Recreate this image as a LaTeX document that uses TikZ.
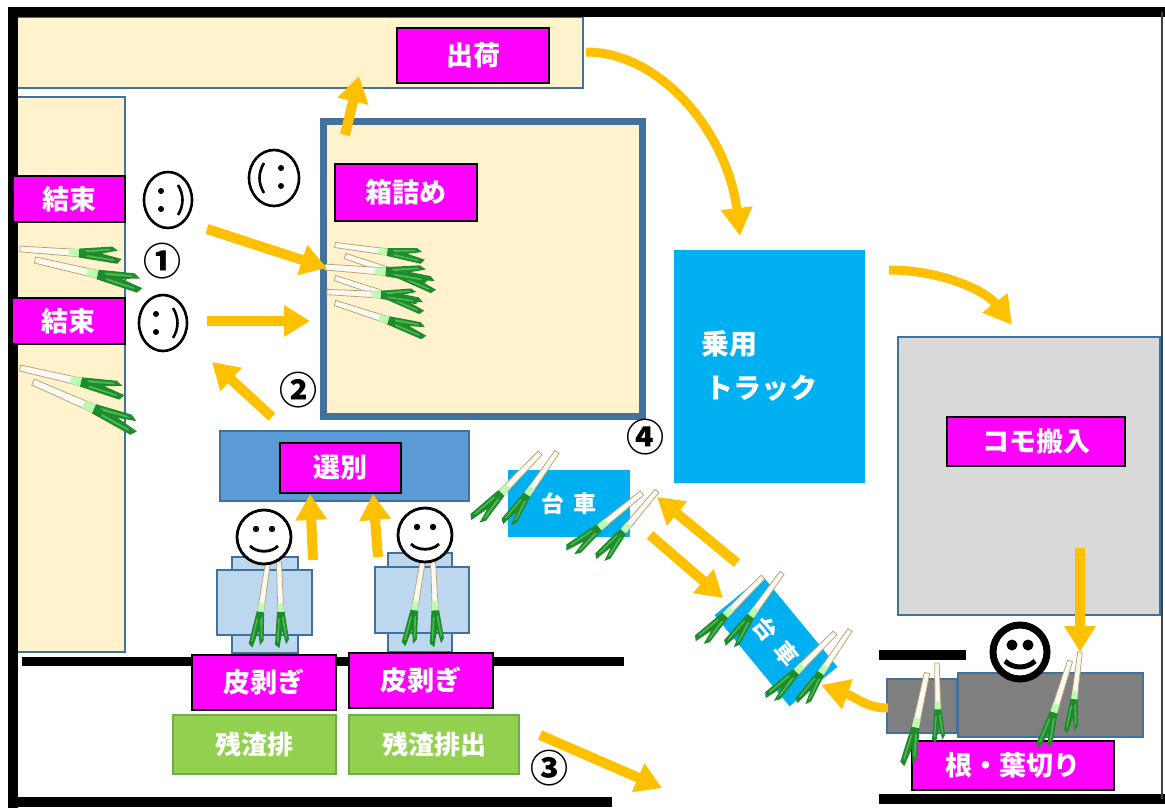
\documentclass[tikz,border=0pt]{standalone}
\usepackage{fontspec}
\usetikzlibrary{arrows.meta}
\newfontfamily\jp{Noto Sans CJK JP}
\definecolor{mag}{HTML}{FF00FF}
\definecolor{ay}{HTML}{FFC000}
\definecolor{cream}{HTML}{FFF2CC}
\definecolor{bord}{HTML}{41719C}
\definecolor{sky}{HTML}{00B0F0}
\definecolor{lblue}{HTML}{BDD7EE}
\definecolor{mblue}{HTML}{5B9BD5}
\definecolor{lgray}{HTML}{D9D9D9}
\definecolor{dgray}{HTML}{7F7F7F}
\definecolor{lgreen}{HTML}{92D050}
\definecolor{ggreen}{HTML}{70AD47}
\definecolor{leekg}{HTML}{1E8B2D}
\definecolor{leekl}{HTML}{4DB84F}
\definecolor{stalk}{HTML}{FBFAF0}
\definecolor{leektan}{HTML}{BBA478}
\begin{document}
\begin{tikzpicture}[x=1pt,y=-1pt,
  lbl/.style={draw=black, line width=2.6pt, fill=mag, text=white,
    font=\jp\bfseries\fontsize{27}{27}\selectfont, inner sep=0pt},
  grn/.style={draw=ggreen, line width=2pt, fill=lgreen, text=white,
    font=\jp\bfseries\fontsize{26}{26}\selectfont, inner sep=0pt},
  cart/.style={fill=sky, text=white, inner sep=0pt,
    font=\jp\bfseries\fontsize{23}{23}\selectfont},
  wall/.style={line width=10pt, black},
  area/.style={draw=bord, line width=2pt},
  num/.style={font=\jp\bfseries\fontsize{38}{38}\selectfont, inner sep=0pt},
  flow/.style={draw=ay, line width=10pt, -{Triangle[width=30pt,length=26pt]}},
  curveflow/.style={draw=ay, line width=9pt, -{Triangle[width=30pt,length=28pt]}},
  leek/.pic={
    \draw[leektan, line width=0.8pt, fill=stalk] (0,-2.8) -- (62,-3.6) -- (62,3.6) -- (0,2.8) -- cycle;
    \fill[green!25!stalk] (48,-3.4) -- (64,-3.7) -- (64,3.7) -- (48,3.4) -- cycle;
    \fill[leekg] (58,-4.4) -- (90,-8.5) -- (96,-5) -- (80,-1) -- (100,3) -- (96,8) -- (58,4.4) -- cycle;
    \fill[leekl] (63,-3) -- (87,-6.2) -- (90,-5) -- (66,-1.2) -- cycle;
    \fill[leekl] (66,1.4) -- (93,4) -- (93,5.6) -- (66,3.2) -- cycle;
  },
  sideR/.pic={
    \draw[line width=2.6pt, fill=white] (0,0) ellipse [x radius=24pt, y radius=28pt];
    \fill (-7,-9) circle (3pt); \fill (-7,9) circle (3pt);
    \draw[line width=2.6pt] (10,-15) .. controls (16,-5) and (16,5) .. (10,15);
  },
  sideL/.pic={
    \draw[line width=2.6pt, fill=white] (0,0) ellipse [x radius=25pt, y radius=28pt];
    \fill (7,-10) circle (3pt); \fill (7,8) circle (3pt);
    \draw[line width=2.6pt] (-10,-15) .. controls (-16,-5) and (-16,5) .. (-10,15);
  },
  smiley/.pic={
    \draw[line width=2.8pt, fill=white] (0,0) circle (27pt);
    \fill (-8,-8) circle (3.2pt); \fill (8,-8) circle (3.2pt);
    \draw[line width=2.8pt] (-14,9) .. controls (-7,16) and (7,16) .. (14,9);
  },
  boldsmiley/.pic={
    \draw[line width=7pt, fill=white] (0,0) circle (27pt);
    \fill (-8,-7) circle (5.5pt); \fill (8,-7) circle (5.5pt);
    \draw[line width=5pt] (-15,9) .. controls (-7,17) and (7,17) .. (15,9);
  }]
\useasboundingbox (0,0) rectangle (1165,808);

% floor areas
\draw[area, fill=cream] (15,17) rectangle (583,88);
\draw[area, fill=cream] (15,97) rectangle (125,652);
\draw[draw=bord, line width=7pt, fill=cream] (323.5,121) rectangle (642,416.5);
\draw[draw=bord, line width=2.5pt, fill=lgray] (898,337) rectangle (1160,615);
\node[fill=sky, minimum width=191pt, minimum height=233pt, inner sep=0pt] (truck) at (769.5,366.5) {};
\node[font=\jp\bfseries\fontsize{28}{28}\selectfont, text=white, anchor=west, inner sep=0pt] (truckA) at (701,344) {乗用};
\node[font=\jp\bfseries\fontsize{28}{28}\selectfont, text=white, anchor=west, inner sep=0pt] (truckB) at (705,388) {トラック};

% walls
\draw[wall] (8,12) -- (1165,12);
\draw[wall] (13,7) -- (13,808);
\draw[wall] (8,802) -- (612,802);
\draw[wall, line width=9pt] (22,661) -- (624,661);
\draw[wall] (879,655) -- (966,655);
\draw[wall] (879,799) -- (1165,799);
\draw[black!75, line width=2pt] (1162,12) -- (1162,799);

% sorting table and peeling stations
\draw[area, fill=mblue] (220,431) rectangle (469,501);
\draw[area, fill=lblue] (232,557) rectangle (298,653);
\draw[area, fill=lblue] (217,570) rectangle (312,635);
\draw[area, fill=lblue] (388,553) rectangle (452,652);
\draw[area, fill=lblue] (375,567) rectangle (469,633);

% cutting benches
\draw[area, fill=dgray] (887,679) rectangle (957,733);
\draw[area, fill=dgray] (958,673) rectangle (1143,737);

% work labels
\node[lbl, minimum width=152pt, minimum height=55pt] (ship) at (473,55.5) {出荷};
\node[lbl, minimum width=142pt, minimum height=57pt] (pack) at (406,192.5) {箱詰め};
\node[lbl, minimum width=112pt, minimum height=46pt] (tie1) at (69,199) {結束};
\node[lbl, minimum width=113pt, minimum height=46pt] (tie2) at (68.5,321) {結束};
\node[lbl, minimum width=121pt, minimum height=50pt] (sort) at (340.5,468) {選別};
\node[lbl, minimum width=144pt, minimum height=55pt] (peel1) at (264,682.5) {皮剥ぎ};
\node[lbl, minimum width=144pt, minimum height=55pt] (peel2) at (421,680.5) {皮剥ぎ};
\node[lbl, minimum width=178pt, minimum height=49pt] (mats) at (1036,441.5) {コモ搬入};
\node[lbl, minimum width=202pt, minimum height=49pt] (trim) at (1013,765.5) {根・葉切り};
\node[grn, minimum width=163pt, minimum height=59pt] (waste1) at (254.5,744.5) {残渣排};
\node[grn, minimum width=170pt, minimum height=59pt] (waste2) at (434,744.5) {残渣排出};

% carts
\node[cart, minimum width=122pt, minimum height=67pt] (cart1) at (569,503.5) {台\hspace{0.4em}車};
\node[cart, minimum width=118pt, minimum height=62pt, rotate=-50.5] (cart2) at (776,641) {台\hspace{0.4em}車};

% leeks
\foreach \px/\py/\r/\s in {20/249/-3.9/1.02, 35/260/-13/1.11, 20/368/-12.9/1.08, 33/382/-23.7/1.15,
  335/245/-7.6/0.91, 345/256/-18.6/0.97, 325/267/-4.4/1.05, 335/278/-18.4/0.95, 327/292/-3/0.93, 335/303/-18/0.97,
  268/562/-98.6/0.87, 279/562/-88/0.86, 423/560/-99.8/0.88, 433/560/-87.4/0.87,
  540/453/-134/0.96, 557/452/-125/0.90, 642/493/-141/0.95, 657/491/-130/0.91,
  763/577/-134.6/0.93, 782/573/-126/0.92, 835/633/-135/0.95, 850/630/-124/0.90,
  927/673/-102/0.96, 937/663/-89/0.80, 1070/661/-107.5/0.93, 1080/652/-97/0.82}
  \pic[rotate=\r, scale=\s] at (\px,\py) {leek};

% workers
\pic at (168,200) {sideR};
\pic at (163,323) {sideR};
\pic at (274,178) {sideL};
\pic at (264,537) {smiley};
\pic at (425,535) {smiley};
\pic at (1020,652) {boldsmiley};

% step numbers
\node[num] (n1) at (162,261) {①};
\node[num] (n2) at (298,390) {②};
\node[num] (n3) at (549,768) {③};
\node[num] (n4) at (645,437) {④};

% flow arrows
\coordinate (p1s) at (207,229); \coordinate (p1e) at (327,268);
\coordinate (p2s) at (207,321); \coordinate (p2e) at (310,321);
\coordinate (p3s) at (272,417); \coordinate (p3e) at (212,362);
\coordinate (p4s) at (345,135); \coordinate (p4e) at (359,76);
\coordinate (p5s) at (313,560); \coordinate (p5e) at (310,494);
\coordinate (p6s) at (378,557); \coordinate (p6e) at (373,494);
\coordinate (p7s) at (540,735); \coordinate (p7e) at (662,788);
\coordinate (p8s) at (650,535); \coordinate (p8e) at (723,598);
\coordinate (p9s) at (737,563); \coordinate (p9e) at (657,497);
\coordinate (p10s) at (1080,548); \coordinate (p10e) at (1080,652);
\coordinate (c1s) at (586,52); \coordinate (c1e) at (740,236);
\coordinate (c2s) at (889,270); \coordinate (c2e) at (1012,325);
\coordinate (c3s) at (888,708); \coordinate (c3e) at (821,685);
\draw[flow] (p1s) -- (p1e);
\draw[flow] (p2s) -- (p2e);
\draw[flow] (p3s) -- (p3e);
\draw[flow] (p4s) -- (p4e);
\draw[flow] (p5s) -- (p5e);
\draw[flow] (p6s) -- (p6e);
\draw[flow] (p7s) -- (p7e);
\draw[flow] (p8s) -- (p8e);
\draw[flow] (p9s) -- (p9e);
\draw[flow] (p10s) -- (p10e);
\draw[curveflow] (c1s) .. controls (662,52) and (728,135) .. (c1e);
\draw[curveflow] (c2s) .. controls (940,270) and (985,290) .. (c2e);
\draw[curveflow] (c3s) .. controls (866,708) and (858,698) .. (c3e);
\end{tikzpicture}
\end{document}
